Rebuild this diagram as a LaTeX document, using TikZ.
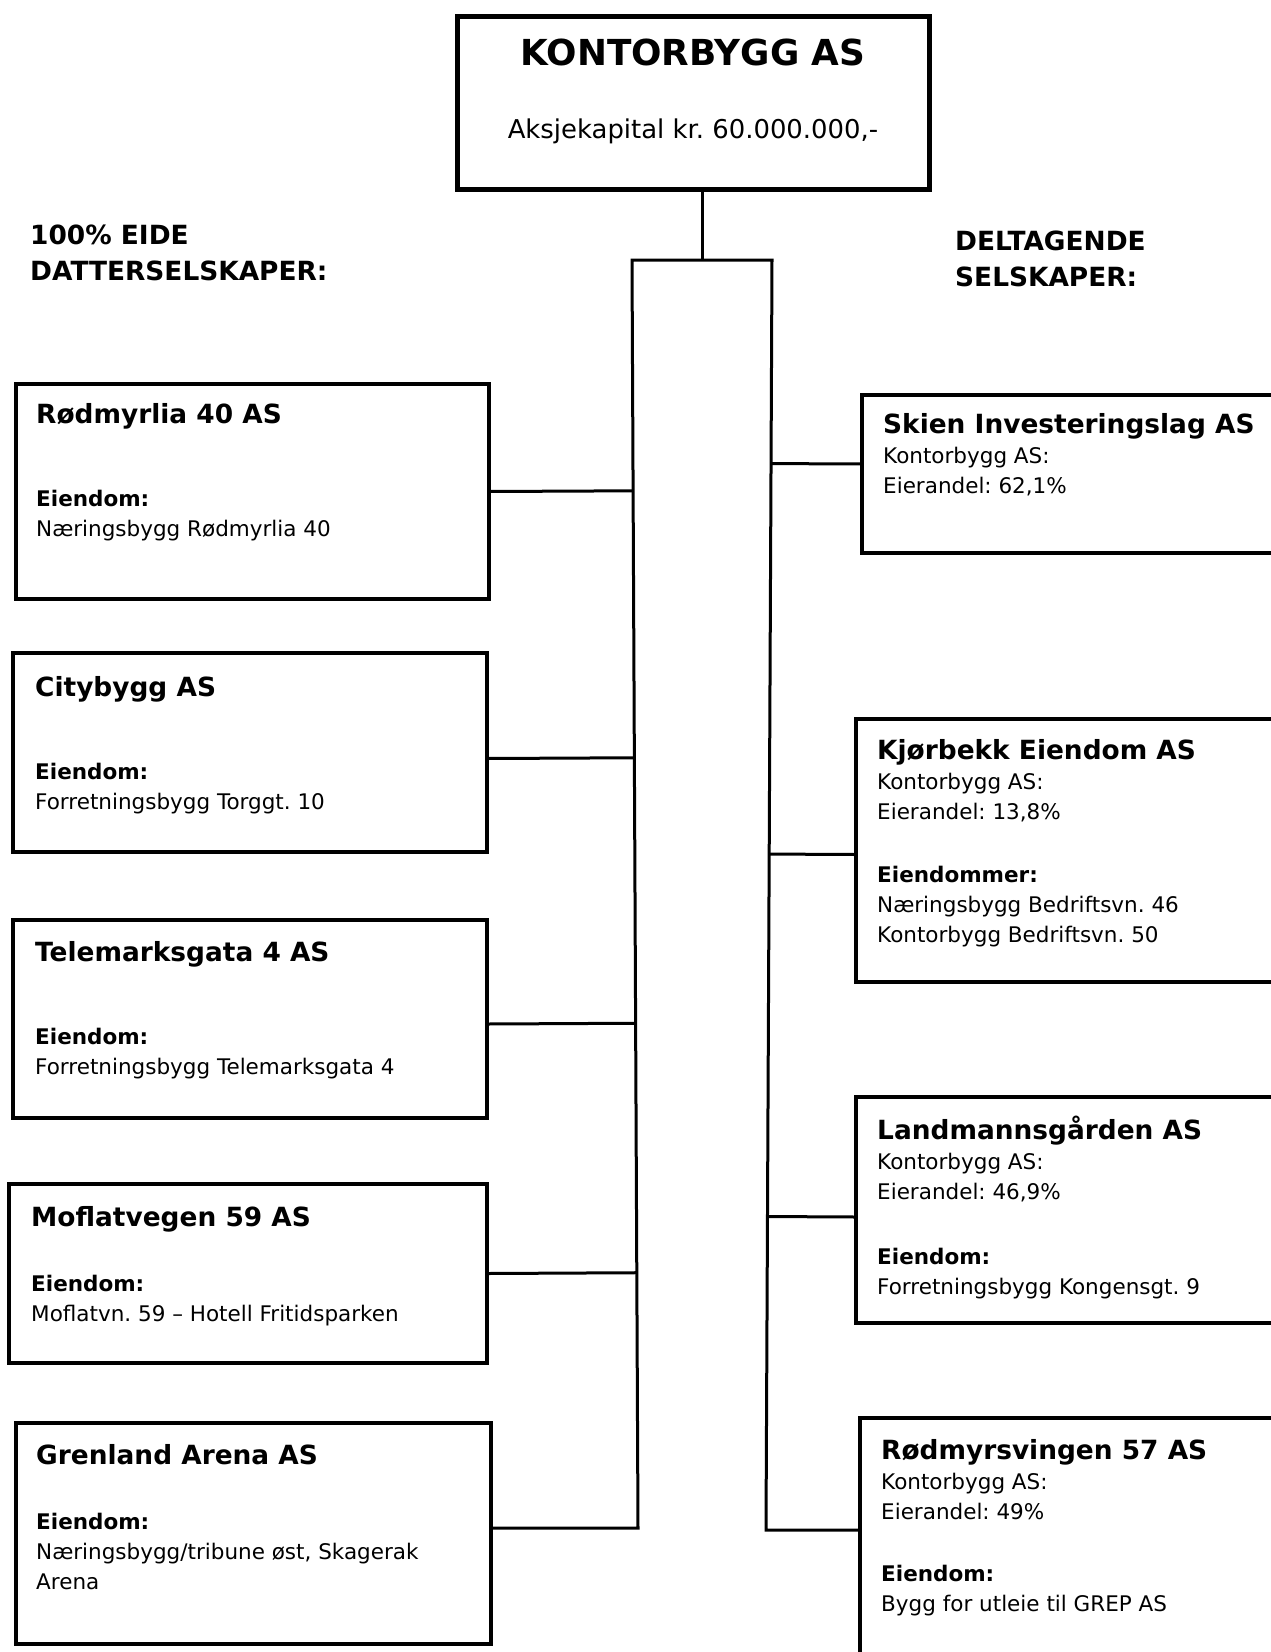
\documentclass[tikz,border=0pt]{standalone}
\usepackage{fontspec}
\setmainfont{DejaVu Sans}
\usepackage{tikz}
\usetikzlibrary{calc}
\frenchspacing

\newcommand{\firma}[1]{{\bfseries\fontsize{26.4}{30}\selectfont\strut #1}}

\begin{document}
\begin{tikzpicture}[x=1pt, y=-1pt,
    boks/.style={draw, line width=3.3pt, anchor=north west, inner sep=0pt, outer sep=0pt},
    tekst/.style={anchor=north west, inner sep=0pt, align=left, font=\fontsize{21.5}{30}\selectfont},
    overskrift/.style={anchor=north west, inner sep=0pt, align=left, font=\bfseries\fontsize{26.4}{36}\selectfont},
    linje/.style={line width=3pt}]
    \useasboundingbox (0,0) rectangle (1271,1652);
    \clip (0,0) rectangle (1271,1652);

    \node[draw, line width=5pt, minimum width=472pt, minimum height=173pt, inner sep=0pt, outer sep=0pt] (hoved) at (693,102.5) {};
    \node[anchor=base, inner sep=0pt, font=\bfseries\fontsize{35.8}{40}\selectfont] (hovednavn) at ([yshift=-49pt]hoved.north) {KONTORBYGG AS};
    \node[anchor=base, inner sep=0pt, font=\fontsize{25.9}{30}\selectfont] (kapital) at ([yshift=-122pt]hoved.north) {Aksjekapital kr. 60.000.000,-};

    \node[overskrift] (datter) at (30,219) {\strut 100\% EIDE\\DATTERSELSKAPER:};
    \node[overskrift] (deltagende) at (955,225) {\strut DELTAGENDE\\SELSKAPER:};

    \node[boks, minimum width=473pt, minimum height=215pt] (rodmyrlia) at (16,384) {};
    \node[boks, minimum width=474pt, minimum height=199pt] (citybygg) at (13,653) {};
    \node[boks, minimum width=474pt, minimum height=198pt] (telemark) at (13,920) {};
    \node[boks, minimum width=478pt, minimum height=179pt] (moflat) at (9,1184) {};
    \node[boks, minimum width=475pt, minimum height=221pt] (grenland) at (16,1423) {};

    \node[boks, minimum width=450pt, minimum height=158pt] (skien) at (862,395) {};
    \node[boks, minimum width=450pt, minimum height=263pt] (kjorbekk) at (856,719) {};
    \node[boks, minimum width=450pt, minimum height=226pt] (landmann) at (856,1097) {};
    \node[boks, minimum width=450pt, minimum height=300pt] (rodmyrsv) at (860,1418) {};

    \node[tekst] at ([shift={(20,18)}]rodmyrlia.north west) {\firma{Rødmyrlia 40 AS}\\[53pt]\textbf{Eiendom:}\\Næringsbygg Rødmyrlia 40};
    \node[tekst] at ([shift={(22,22)}]citybygg.north west) {\firma{Citybygg AS}\\[53pt]\textbf{Eiendom:}\\Forretningsbygg Torggt. 10};
    \node[tekst] at ([shift={(22,20)}]telemark.north west) {\firma{Telemarksgata 4 AS}\\[53pt]\textbf{Eiendom:}\\Forretningsbygg Telemarksgata 4};
    \node[tekst] at ([shift={(22,21)}]moflat.north west) {\firma{Moflatvegen 59 AS}\\[35pt]\textbf{Eiendom:}\\Moflatvn. 59 – Hotell Fritidsparken};
    \node[tekst] at ([shift={(20,20)}]grenland.north west) {\firma{Grenland Arena AS}\\[35pt]\textbf{Eiendom:}\\Næringsbygg/tribune øst, Skagerak\\Arena};

    \node[tekst] at ([shift={(21,17)}]skien.north west) {\firma{Skien Investeringslag AS}\\Kontorbygg AS:\\Eierandel: 62,1\%};
    \node[tekst] at ([shift={(21,19)}]kjorbekk.north west) {\firma{Kjørbekk Eiendom AS}\\Kontorbygg AS:\\Eierandel: 13,8\%\\[33pt]\textbf{Eiendommer:}\\Næringsbygg Bedriftsvn. 46\\Kontorbygg Bedriftsvn. 50};
    \node[tekst] at ([shift={(21,19)}]landmann.north west) {\firma{Landmannsgården AS}\\Kontorbygg AS:\\Eierandel: 46,9\%\\[35pt]\textbf{Eiendom:}\\Forretningsbygg Kongensgt. 9};
    \node[tekst] at ([shift={(21,20)}]rodmyrsv.north west) {\firma{Rødmyrsvingen 57 AS}\\Kontorbygg AS:\\Eierandel: 49\%\\[32pt]\textbf{Eiendom:}\\Bygg for utleie til GREP AS};

    \coordinate (topp) at (702,260);
    \coordinate (vtopp) at (632,260);
    \coordinate (vbunn) at (638,1528);
    \coordinate (htopp) at (772,260);
    \coordinate (hbunn) at (766,1530);

    \draw[linje] (hoved.south -| topp) -- (topp);
    \draw[linje] (grenland.east |- vbunn) -- (vbunn) -- (vtopp) -- (htopp) -- (hbunn) -- (hbunn -| rodmyrsv.west);

    \draw[linje] (rodmyrlia.east) -- ($(vtopp)!(rodmyrlia.east)!(vbunn)$);
    \draw[linje] ([yshift=-6pt]citybygg.east) -- ($(vtopp)!([yshift=-6pt]citybygg.east)!(vbunn)$);
    \draw[linje] ([yshift=-5pt]telemark.east) -- ($(vtopp)!([yshift=-5pt]telemark.east)!(vbunn)$);
    \draw[linje] (moflat.east) -- ($(vtopp)!(moflat.east)!(vbunn)$);
    \draw[linje] ([yshift=10pt]skien.west) -- ($(htopp)!([yshift=10pt]skien.west)!(hbunn)$);
    \draw[linje] ([yshift=-4pt]kjorbekk.west) -- ($(htopp)!([yshift=-4pt]kjorbekk.west)!(hbunn)$);
    \draw[linje] ([yshift=-7pt]landmann.west) -- ($(htopp)!([yshift=-7pt]landmann.west)!(hbunn)$);
\end{tikzpicture}
\end{document}
